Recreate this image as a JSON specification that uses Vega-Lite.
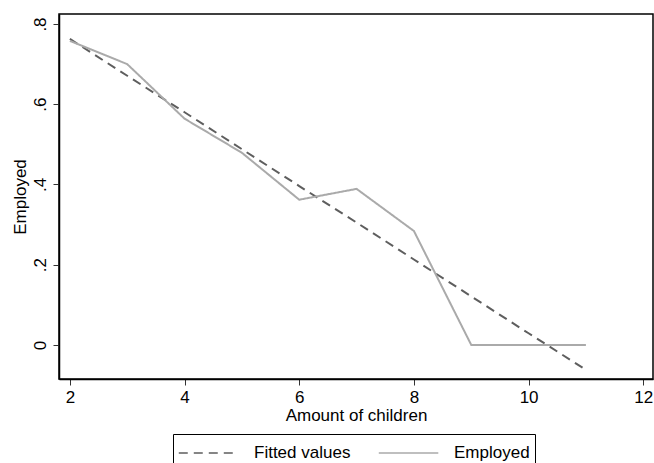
{
  "$schema": "https://vega.github.io/schema/vega-lite/v6.json",
  "width": 594,
  "height": 365,
  "autosize": {"type": "none"},
  "padding": {"left": 59, "top": 14, "right": 1, "bottom": 84},
  "background": "white",
  "config": {
    "view": {"stroke": "black", "strokeWidth": 1.5},
    "font": "Liberation Sans"
  },
  "data": {
    "values": [
      {"children": 2, "value": 0.763, "series": "Fitted values"},
      {"children": 3, "value": 0.671, "series": "Fitted values"},
      {"children": 4, "value": 0.580, "series": "Fitted values"},
      {"children": 5, "value": 0.488, "series": "Fitted values"},
      {"children": 6, "value": 0.396, "series": "Fitted values"},
      {"children": 7, "value": 0.305, "series": "Fitted values"},
      {"children": 8, "value": 0.213, "series": "Fitted values"},
      {"children": 9, "value": 0.121, "series": "Fitted values"},
      {"children": 10, "value": 0.029, "series": "Fitted values"},
      {"children": 11, "value": -0.062, "series": "Fitted values"},
      {"children": 2, "value": 0.758, "series": "Employed"},
      {"children": 3, "value": 0.700, "series": "Employed"},
      {"children": 4, "value": 0.564, "series": "Employed"},
      {"children": 5, "value": 0.479, "series": "Employed"},
      {"children": 6, "value": 0.362, "series": "Employed"},
      {"children": 7, "value": 0.389, "series": "Employed"},
      {"children": 8, "value": 0.284, "series": "Employed"},
      {"children": 9, "value": 0.0, "series": "Employed"},
      {"children": 10, "value": 0.0, "series": "Employed"},
      {"children": 11, "value": 0.0, "series": "Employed"}
    ]
  },
  "mark": {"type": "line", "strokeWidth": 2, "clip": true},
  "encoding": {
    "x": {
      "field": "children",
      "type": "quantitative",
      "scale": {"domain": [1.81, 12.17], "nice": false, "zero": false},
      "axis": {
        "values": [2, 4, 6, 8, 10, 12],
        "title": "Amount of children",
        "titleFont": "Liberation Sans",
        "titleFontSize": 17,
        "titleFontWeight": "normal",
        "titleColor": "black",
        "titlePadding": 2,
        "labelFontSize": 17,
        "labelColor": "black",
        "labelPadding": 4,
        "tickSize": 6,
        "tickColor": "#333",
        "domainColor": "black",
        "domainWidth": 1.5,
        "grid": false
      }
    },
    "y": {
      "field": "value",
      "type": "quantitative",
      "scale": {"domain": [-0.085, 0.825], "nice": false, "zero": false},
      "axis": {
        "values": [0, 0.2, 0.4, 0.6, 0.8],
        "labelExpr": "datum.value == 0 ? '0' : replace(format(datum.value, '.1f'), '0.', '.')",
        "labelAngle": -90,
        "labelAlign": "center",
        "labelBaseline": "bottom",
        "labelFontSize": 17,
        "labelColor": "black",
        "labelPadding": 4,
        "title": "Employed",
        "titleFontSize": 17,
        "titleFontWeight": "normal",
        "titleColor": "black",
        "titlePadding": 2,
        "tickSize": 6,
        "tickColor": "#333",
        "domainColor": "black",
        "domainWidth": 1.5,
        "grid": false
      }
    },
    "color": {
      "field": "series",
      "type": "nominal",
      "scale": {"domain": ["Fitted values", "Employed"], "range": ["#5e5e5e", "#aaaaaa"]},
      "legend": {
        "title": null,
        "orient": "none",
        "legendX": 114,
        "legendY": 420,
        "direction": "horizontal",
        "columns": 2,
        "strokeColor": "black",
        "padding": 5,
        "symbolType": "M-1,0H3.5",
        "symbolSize": 700,
        "symbolStrokeWidth": 1.5,
        "labelFontSize": 17,
        "labelColor": "black",
        "labelOffset": 48,
        "columnPadding": 24
      }
    },
    "strokeDash": {
      "field": "series",
      "type": "nominal",
      "scale": {"domain": ["Fitted values", "Employed"], "range": [[9, 6], [1, 0]]}
    }
  }
}
